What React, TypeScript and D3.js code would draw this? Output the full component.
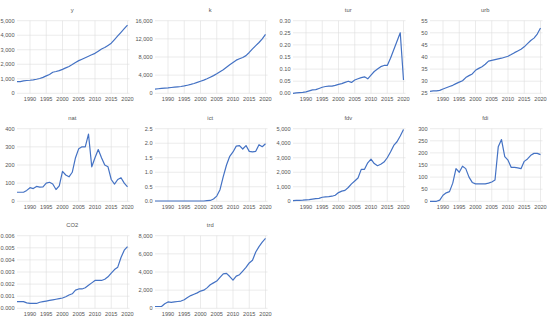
import React from "react";
import * as d3 from "d3";

const years = [1986, 1987, 1988, 1989, 1990, 1991, 1992, 1993, 1994, 1995, 1996, 1997, 1998, 1999, 2000, 2001, 2002, 2003, 2004, 2005, 2006, 2007, 2008, 2009, 2010, 2011, 2012, 2013, 2014, 2015, 2016, 2017, 2018, 2019, 2020];
const yearTicks = [1990, 1995, 2000, 2005, 2010, 2015, 2020];

const yVals = [800, 810, 850, 880, 900, 930, 970, 1020, 1100, 1200, 1300, 1450, 1500, 1560, 1650, 1750, 1850, 1980, 2120, 2250, 2350, 2450, 2550, 2650, 2750, 2900, 3050, 3150, 3300, 3450, 3700, 3950, 4200, 4450, 4700];
const kVals = [900, 1000, 1100, 1150, 1200, 1280, 1350, 1420, 1500, 1620, 1780, 1950, 2150, 2400, 2650, 2900, 3200, 3550, 3900, 4300, 4750, 5200, 5750, 6300, 6800, 7300, 7600, 7900, 8300, 9000, 9800, 10500, 11200, 12000, 13000];
const turVals = [0.0, 0.002, 0.003, 0.004, 0.006, 0.01, 0.014, 0.015, 0.02, 0.025, 0.028, 0.03, 0.03, 0.033, 0.037, 0.04, 0.045, 0.05, 0.045, 0.055, 0.06, 0.065, 0.068, 0.06, 0.075, 0.09, 0.1, 0.11, 0.115, 0.115, 0.145, 0.18, 0.215, 0.25, 0.055];
const urbVals = [25.8, 26, 26, 26.2, 26.8, 27.3, 27.8, 28.3, 29, 29.6, 30.2, 31.5, 32.3, 33, 34.5, 35.3, 36, 37, 38.3, 38.6, 38.9, 39.2, 39.5, 39.9, 40.3, 41, 41.8, 42.5, 43.2, 44.2, 45.5, 46.8, 47.8, 49.5, 52];
const natVals = [50, 50, 50, 60, 75, 70, 82, 78, 80, 100, 105, 95, 65, 85, 165, 145, 135, 160, 240, 290, 300, 300, 370, 190, 240, 285, 240, 200, 190, 120, 95, 120, 130, 100, 80];
const ictVals = [0.01, 0.01, 0.01, 0.01, 0.01, 0.01, 0.01, 0.01, 0.01, 0.01, 0.01, 0.01, 0.01, 0.01, 0.01, 0.01, 0.02, 0.03, 0.08, 0.18, 0.4, 0.85, 1.25, 1.55, 1.7, 1.9, 1.92, 1.8, 1.92, 1.72, 1.7, 1.72, 1.95, 1.88, 1.98];
const fdvVals = [50, 60, 70, 80, 100, 120, 150, 180, 200, 280, 300, 320, 350, 420, 600, 700, 750, 950, 1200, 1400, 1600, 2200, 2200, 2650, 2900, 2600, 2450, 2550, 2700, 3000, 3400, 3850, 4100, 4500, 4950];
const fdiVals = [0, 0, 0, 5, 25, 35, 40, 75, 135, 120, 145, 135, 100, 78, 72, 72, 72, 72, 75, 80, 88, 225, 255, 185, 170, 140, 140, 138, 135, 165, 175, 190, 198, 198, 193];
const co2Vals = [0.00055, 0.00055, 0.00055, 0.00045, 0.0004, 0.0004, 0.0004, 0.0005, 0.00055, 0.0006, 0.00065, 0.0007, 0.00075, 0.0008, 0.00085, 0.00095, 0.0011, 0.0012, 0.0015, 0.0016, 0.0016, 0.0017, 0.0019, 0.0021, 0.0023, 0.0023, 0.0023, 0.0024, 0.0026, 0.0029, 0.0032, 0.0034, 0.0042, 0.0048, 0.0051];
const trdVals = [200, 200, 200, 500, 700, 650, 700, 750, 800, 950, 1200, 1400, 1550, 1700, 1900, 2000, 2250, 2600, 2800, 3000, 3400, 3800, 3850, 3500, 3100, 3550, 3700, 4100, 4500, 5000, 5300, 6200, 6800, 7300, 7700];

const yTicks = [0, 1000, 2000, 3000, 4000, 5000];
const kTicks = [0, 4000, 8000, 12000, 16000];
const turTicks = [0, 0.05, 0.1, 0.15, 0.2, 0.25, 0.3];
const urbTicks = [25, 30, 35, 40, 45, 50, 55];
const natTicks = [0, 100, 200, 300, 400];
const ictTicks = [0, 0.5, 1, 1.5, 2, 2.5];
const fdvTicks = [0, 1000, 2000, 3000, 4000, 5000];
const fdiTicks = [0, 50, 100, 150, 200, 250, 300];
const co2Ticks = [0, 0.001, 0.002, 0.003, 0.004, 0.005, 0.006];
const trdTicks = [0, 2000, 4000, 6000, 8000];

const panels = [
  { name: "y", vals: yVals, ticks: yTicks, fmt: ",.0f" },
  { name: "k", vals: kVals, ticks: kTicks, fmt: ",.0f" },
  { name: "tur", vals: turVals, ticks: turTicks, fmt: ".2f" },
  { name: "urb", vals: urbVals, ticks: urbTicks, fmt: "d" },
  { name: "nat", vals: natVals, ticks: natTicks, fmt: "d" },
  { name: "ict", vals: ictVals, ticks: ictTicks, fmt: ".1f" },
  { name: "fdv", vals: fdvVals, ticks: fdvTicks, fmt: ",.0f" },
  { name: "fdi", vals: fdiVals, ticks: fdiTicks, fmt: "d" },
  { name: "CO2", vals: co2Vals, ticks: co2Ticks, fmt: ".3f" },
  { name: "trd", vals: trdVals, ticks: trdTicks, fmt: ",.0f" },
];

const colX = [0, 138, 276, 413];
const rowY = [0, 108, 215];
const left = 17;
const right = 127.5;
const top = 20.7;
const bottom = 93.3;
const font = "'Liberation Sans Narrow', 'Liberation Sans', Arial, sans-serif";
const lineColor = "#4472C4";
const gridColor = "#DEDEDE";
const textColor = "#555555";

const Panel = ({ p, i }: { p: any; i: number }) => {
  const ox = colX[i % 4];
  const oy = rowY[Math.floor(i / 4)];
  const x = d3.scaleLinear().domain([1986, 2020]).range([left, right]);
  const y = d3
    .scaleLinear()
    .domain([p.ticks[0], p.ticks[p.ticks.length - 1]])
    .range([bottom, top]);
  const fmt = d3.format(p.fmt);
  const line = d3
    .line<number>()
    .x((d, j) => x(years[j]))
    .y((d) => y(d));
  return (
    <g transform={`translate(${ox},${oy})`}>
      {p.ticks.map((t: number) => (
        <line key={"h" + t} x1={left} x2={right + 2} y1={y(t)} y2={y(t)} stroke={gridColor} strokeWidth={0.6} />
      ))}
      {yearTicks.map((t) => (
        <line key={"v" + t} x1={x(t)} x2={x(t)} y1={top} y2={bottom} stroke={gridColor} strokeWidth={0.6} />
      ))}
      {p.ticks.map((t: number) => (
        <text key={"t" + t} x={left - 2.5} y={y(t)} dy="0.35em" textAnchor="end" fontSize={5.6} fill={textColor} fontFamily={font}>
          {fmt(t)}
        </text>
      ))}
      {yearTicks.map((t) => (
        <text key={"x" + t} x={x(t)} y={bottom + 7.5} textAnchor="middle" fontSize={5.6} fill={textColor} fontFamily={font}>
          {t}
        </text>
      ))}
      <text x={(left + right) / 2} y={top - 9} textAnchor="middle" fontSize={5.8} fill={textColor} fontFamily={font}>
        {p.name}
      </text>
      <path d={line(p.vals) || ""} fill="none" stroke={lineColor} strokeWidth={1.2} strokeLinejoin="round" />
    </g>
  );
};

export default function App() {
  return (
    <svg width={550} height={321} style={{ position: "absolute", left: 0, top: 0, background: "#fff" }}>
      <rect width={550} height={321} fill="#fff" />
      {panels.map((p, i) => (
        <Panel key={p.name} p={p} i={i} />
      ))}
    </svg>
  );
}
